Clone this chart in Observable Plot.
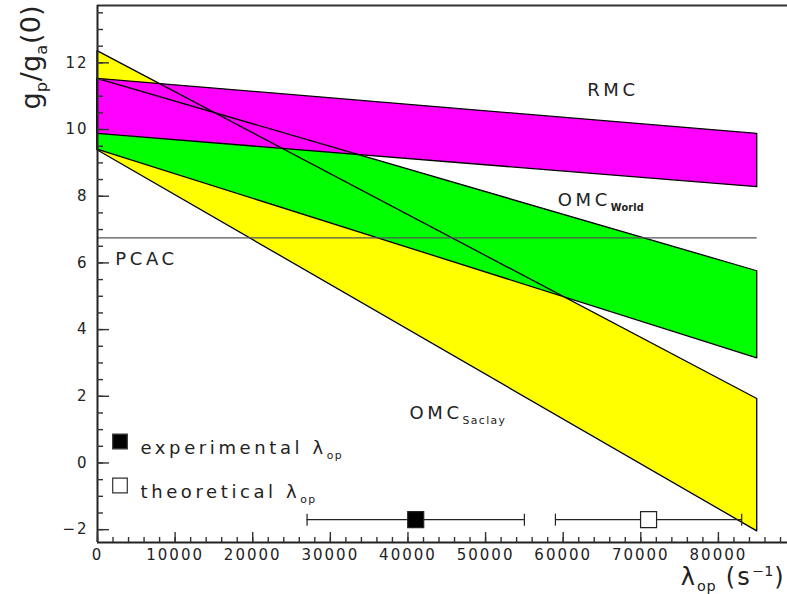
<!DOCTYPE html>
<html><head><meta charset="utf-8">
<script src="https://cdn.jsdelivr.net/npm/d3@7"></script>
<script src="https://cdn.jsdelivr.net/npm/@observablehq/plot@0.6"></script>
<style>
html,body{margin:0;padding:0;background:#fff;}
#chart svg text{letter-spacing:2px;}
</style></head><body><div id="chart"></div>
<script>
// ---- data ----
const bandX = [0, 85000];
const rmcUpper = [11.52, 9.87];
const rmcLower = [9.87, 8.27];
const worldUpper = [11.52, 5.75];
const worldLower = [9.40, 3.14];
const saclayUpper = [12.35, 1.92];
const saclayLower = [9.38, -2.05];
const pcacValue = 6.75;
const lambdaNames = ["experimental", "theoretical"];
const lambdaCentral = [41000, 71000];
const lambdaLow = [27000, 59000];
const lambdaHigh = [55000, 83000];
const markerLevel = -1.7;
const xMajorTicks = [0, 10000, 20000, 30000, 40000, 50000, 60000, 70000, 80000];
const yMajorTicks = [-2, 0, 2, 4, 6, 8, 10, 12];

// ---- layout ----
const W = 787, H = 594, ML = 97, MR = 0, MT = 5, MB = 52;
const xDomain = [0, 88900];
const yDomain = [-2.385, 13.72];
const plotW = W - ML - MR, plotH = H - MT - MB;
const xMinorTicks = d3.range(0, 89000, 2000);
const yMinorTicks = d3.range(-2, 13.75, 0.5);

function bandRows(upper, lower) {
  return bandX.map((x, i) => ({x, y1: lower[i], y2: upper[i]}));
}
const saclay = bandRows(saclayUpper, saclayLower);
const world = bandRows(worldUpper, worldLower);
const rmc = bandRows(rmcUpper, rmcLower);
const lambdas = lambdaNames.map((name, i) => ({name, c: lambdaCentral[i], lo: lambdaLow[i], hi: lambdaHigh[i]}));
const caps = lambdas.flatMap(d => [d.lo, d.hi]);

const vLine = {draw(c, s) { const r = Math.sqrt(s / Math.PI); c.moveTo(0, -r); c.lineTo(0, r); }};
const square = {draw(c, s) { const r = Math.sqrt(s / Math.PI); c.rect(-r, -r, 2 * r, 2 * r); }};

const area = (rows, opts) => Plot.areaY(rows, {x: "x", y1: "y1", y2: "y2", ...opts});
const outline = {fill: "none", stroke: "black", strokeWidth: 1.3};
const label = {textAnchor: "start", fontSize: 18, fill: "#222"};

const chart = Plot.plot({
  width: W, height: H,
  marginLeft: ML, marginRight: MR, marginTop: MT, marginBottom: MB,
  style: {fontFamily: "'DejaVu Sans', sans-serif", background: "#fff", color: "#222"},
  x: {domain: xDomain, axis: null},
  y: {domain: yDomain, axis: null},
  marks: [
    area(saclay, {fill: "#ffff00"}),
    area(world, {fill: "#00ff00"}),
    area(rmc, {fill: "#ff00ff"}),
    area(saclay, outline),
    area(world, outline),
    area(rmc, outline),
    Plot.ruleY([pcacValue], {x1: bandX[0], x2: bandX[1], stroke: "#555", strokeWidth: 1.3}),
    // error bars
    Plot.ruleY(lambdas, {y: () => markerLevel, x1: "lo", x2: "hi", stroke: "#222", strokeWidth: 1.2}),
    Plot.dot(caps, {x: d => d, y: () => markerLevel, symbol: vLine, r: 6, stroke: "#222", strokeWidth: 1.2, fill: "none"}),
    Plot.dot(lambdas, {x: "c", y: () => markerLevel, symbol: square, r: 8, stroke: "#222", strokeWidth: 1.2, fill: d => d.name === "experimental" ? "black" : "white"}),
    // legend
    Plot.dot(["experimental"], {frameAnchor: "top-left", dx: 22.5, dy: 436, symbol: square, r: 7.3, stroke: "#333", strokeWidth: 1.2, fill: "black"}),
    Plot.dot(["theoretical"], {frameAnchor: "top-left", dx: 22.5, dy: 480, symbol: square, r: 7.3, stroke: "#333", strokeWidth: 1.2, fill: "white"}),
    Plot.text(["experimental λ_{op}"], {frameAnchor: "top-left", dx: 43, dy: 436, ...label}),
    Plot.text(["theoretical λ_{op}"], {frameAnchor: "top-left", dx: 43, dy: 480, ...label}),
    // annotations
    Plot.text(["RMC"], {x: 63100, y: 11.17, ...label}),
    Plot.text(["OMC_!{World}"], {x: 59300, y: 7.87, ...label}),
    Plot.text(["PCAC"], {x: 2300, y: 6.1, ...label}),
    Plot.text(["OMC_{Saclay}"], {x: 40200, y: 1.5, ...label}),
    // axes frame
    Plot.ruleY([yDomain[1]], {stroke: "#333", strokeWidth: 2}),
    Plot.ruleY([yDomain[0]], {stroke: "#222", strokeWidth: 2}),
    Plot.ruleX([xDomain[0]], {stroke: "#222", strokeWidth: 2}),
    Plot.tickY(yMinorTicks, {y: d => d, insetRight: plotW - 6, stroke: "#333", strokeWidth: 1.4}),
    Plot.tickY(yMajorTicks, {y: d => d, insetRight: plotW - 12, stroke: "#333", strokeWidth: 1.4}),
    Plot.tickX(xMinorTicks, {x: d => d, insetTop: plotH - 5, stroke: "#333", strokeWidth: 1.4}),
    Plot.tickX(xMajorTicks, {x: d => d, insetTop: plotH - 10, stroke: "#333", strokeWidth: 1.4}),
    Plot.axisY({ticks: yMajorTicks, tickSize: 0, tickPadding: 9, fontSize: 15, tickFormat: d => (d < 0 ? "\u2212" : "") + Math.abs(d)}),
    Plot.axisX({ticks: xMajorTicks, tickSize: 0, tickPadding: 7, fontSize: 15, tickFormat: d => String(d)}),
    // axis titles
    Plot.text(["g_{p}/g_{a}(0)"], {frameAnchor: "top-left", dx: -77, dy: 104, rotate: -90, textAnchor: "start", fontSize: 27, fill: "#222"}),
    Plot.text(["λ_{op} (s^{\u22121})"], {frameAnchor: "bottom-right", dx: -2, dy: 42, textAnchor: "end", fontSize: 24, fill: "#222"})
  ]
});
document.getElementById("chart").appendChild(chart);

// rich text: _{sub}, _!{bold sub}, ^{sup}
chart.querySelectorAll("text").forEach(el => {
  const s = el.textContent;
  const fsAttr = parseFloat(getComputedStyle(el).fontSize);
  if (fsAttr >= 17 && fsAttr < 20) el.style.letterSpacing = "3.6px";
  if (s.startsWith("g_")) el.style.letterSpacing = "0.2px";
  if (!/[_^]!?\{/.test(s)) return;
  const fs = fsAttr;
  while (el.firstChild) el.removeChild(el.firstChild);
  const re = /([_^])(!?)\{([^}]*)\}/g;
  let last = 0, m, offset = 0;
  const add = (txt, kind, bold) => {
    const t = document.createElementNS("http://www.w3.org/2000/svg", "tspan");
    t.textContent = txt;
    const target = kind === "_" ? fs * 0.28 : kind === "^" ? -fs * 0.36 : 0;
    if (target !== offset) { t.setAttribute("dy", target - offset); offset = target; }
    if (kind) {
      t.setAttribute("font-size", fs * (bold ? 0.54 : 0.6));
      t.style.letterSpacing = bold ? "0.2px" : (fs >= 17 && fs < 20 ? "1.4px" : "0.6px");
    }
    if (bold) t.setAttribute("font-weight", "bold");
    el.appendChild(t);
  };
  while ((m = re.exec(s))) {
    if (m.index > last) add(s.slice(last, m.index));
    add(m[3], m[1], m[2] === "!");
    last = re.lastIndex;
  }
  if (last < s.length) add(s.slice(last));
});
</script></body></html>
